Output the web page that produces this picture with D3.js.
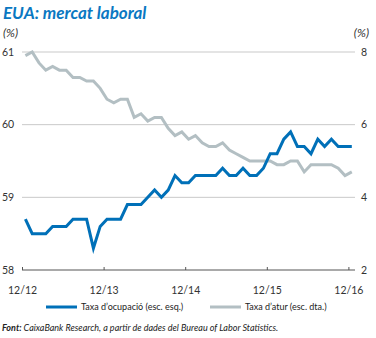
<!DOCTYPE html>
<html>
<head>
<meta charset="utf-8">
<script src="https://cdn.jsdelivr.net/npm/d3@7"></script>
<style>
  html, body { margin: 0; padding: 0; background: #fff; }
  svg { display: block; font-family: Lato, "Open Sans", sans-serif; }
</style>
</head>
<body>
<svg id="chart" width="376" height="338"></svg>
<script>
// Monthly series, December 2012 to December 2016 (49 months)
const months = d3.range(49);
const employmentRate = [
  58.7, 58.5, 58.5, 58.5, 58.6, 58.6, 58.6, 58.7, 58.7, 58.7,
  58.3, 58.6, 58.7, 58.7, 58.7, 58.9, 58.9, 58.9, 59.0, 59.1,
  59.0, 59.1, 59.3, 59.2, 59.2, 59.3, 59.3, 59.3, 59.3, 59.4,
  59.3, 59.3, 59.4, 59.3, 59.3, 59.4, 59.6, 59.6, 59.8, 59.9,
  59.7, 59.7, 59.6, 59.8, 59.7, 59.8, 59.7, 59.7, 59.7
];
const unemploymentRate = [
  7.9, 8.0, 7.7, 7.5, 7.6, 7.5, 7.5, 7.3, 7.3, 7.2,
  7.2, 7.0, 6.7, 6.6, 6.7, 6.7, 6.2, 6.3, 6.1, 6.2,
  6.2, 5.9, 5.7, 5.8, 5.6, 5.7, 5.5, 5.4, 5.4, 5.5,
  5.3, 5.2, 5.1, 5.0, 5.0, 5.0, 5.0, 4.9, 4.9, 5.0,
  5.0, 4.7, 4.9, 4.9, 4.9, 4.9, 4.8, 4.6, 4.7
];
const xTickMonths = [0, 12, 24, 36, 48];
const xTickLabels = ["12/12", "12/13", "12/14", "12/15", "12/16"];
const leftTicks = [58, 59, 60, 61];
const rightTicks = [2, 4, 6, 8];
const seriesNames = ["Taxa d\u2019ocupació (esc. esq.)", "Taxa d\u2019atur (esc. dta.)"];

const blue = "#0070b8";
const grey = "#b3bfc3";

const svg = d3.select("#chart");

const x0 = 22, x1 = 348.4, plotTop = 52, plotBottom = 270, gridRight = 355;
const x = d3.scaleLinear().domain([0, 48]).range([x0, x1]);
const yL = d3.scaleLinear().domain([58, 61]).range([plotBottom, plotTop]);
const yR = d3.scaleLinear().domain([2, 8]).range([plotBottom, plotTop]);

// Title
svg.append("text")
  .attr("x", 3).attr("y", 19)
  .attr("fill", "#0a78c2")
  .attr("font-size", 17).attr("font-weight", 700).attr("font-style", "italic")
  .text("EUA: mercat laboral");

// Units
svg.append("text").attr("x", 3).attr("y", 37)
  .attr("font-size", 12).attr("font-style", "italic").attr("fill", "#333")
  .text("(%)");
svg.append("text").attr("x", 369).attr("y", 37).attr("text-anchor", "end")
  .attr("font-size", 12).attr("font-style", "italic").attr("fill", "#333")
  .text("(%)");

// Horizontal gridlines
svg.append("g").selectAll("line")
  .data(leftTicks.filter(d => d > 58))
  .join("line")
  .attr("x1", x0).attr("x2", gridRight)
  .attr("y1", d => yL(d)).attr("y2", d => yL(d))
  .attr("stroke", "#c9c9c9").attr("stroke-width", 1);

// Left axis labels
svg.append("g").selectAll("text")
  .data(leftTicks)
  .join("text")
  .attr("x", 2).attr("y", d => yL(d)).attr("dy", "0.35em")
  .attr("font-size", 10.5).attr("fill", "#333")
  .text(d => d);

// Right axis labels
svg.append("g").selectAll("text")
  .data(rightTicks)
  .join("text")
  .attr("x", 361).attr("y", d => yR(d)).attr("dy", "0.35em")
  .attr("font-size", 10.5).attr("fill", "#333")
  .text(d => d);

// Bottom axis
const xAxis = d3.axisBottom(x)
  .tickValues(xTickMonths)
  .tickFormat((d, i) => xTickLabels[i])
  .tickSize(0).tickPadding(0);
const gx = svg.append("g").attr("transform", `translate(0,${plotBottom})`).call(xAxis);
gx.select(".domain").remove();
gx.append("line").attr("x1", x0).attr("x2", gridRight).attr("stroke", "#555").attr("stroke-width", 1);
gx.selectAll(".tick line").remove();
gx.selectAll(".tick").append("line").attr("y1", -3).attr("y2", 0).attr("stroke", "#555");
gx.selectAll(".tick text")
  .attr("y", 17).attr("font-size", 10.5).attr("fill", "#333")
  .attr("font-family", "Lato, 'Open Sans', sans-serif");

// Lines (each monthly point sits mid-month)
const xm = i => x(i + 0.5);
svg.append("path")
  .datum(unemploymentRate)
  .attr("fill", "none").attr("stroke", grey).attr("stroke-width", 3)
  .attr("stroke-linejoin", "miter")
  .attr("d", d3.line().x((d, i) => xm(months[i])).y(d => yR(d)));

svg.append("path")
  .datum(employmentRate)
  .attr("fill", "none").attr("stroke", blue).attr("stroke-width", 3)
  .attr("stroke-linejoin", "miter")
  .attr("d", d3.line().x((d, i) => xm(months[i])).y(d => yL(d)));

// Legend
const legend = svg.append("g").attr("font-size", 9).attr("fill", "#222");
const legendItems = [
  { name: seriesNames[0], color: blue, x: 46 },
  { name: seriesNames[1], color: grey, x: 210 }
];
legendItems.forEach(it => {
  legend.append("line").attr("x1", it.x).attr("x2", it.x + 31)
    .attr("y1", 307).attr("y2", 307)
    .attr("stroke", it.color).attr("stroke-width", 3);
  legend.append("text").attr("x", it.x + 35).attr("y", 307).attr("dy", "0.35em")
    .text(it.name);
});

// Source note
const src = svg.append("text").attr("x", 2).attr("y", 331)
  .attr("font-size", 9).attr("font-style", "italic").attr("fill", "#222");
src.append("tspan").attr("font-weight", 700).text("Font:");
src.append("tspan").text(" CaixaBank Research, a partir de dades del Bureau of Labor Statistics.");
</script>
</body>
</html>
